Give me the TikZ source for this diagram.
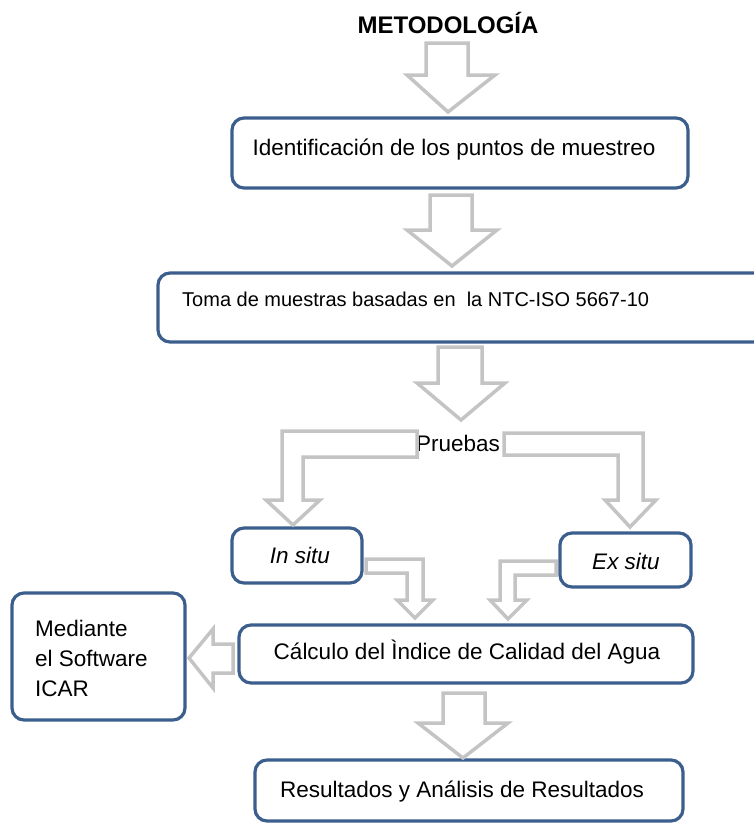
\documentclass[tikz,border=0pt]{standalone}
\usepackage{fontspec}
\setmainfont{Liberation Sans}
\definecolor{boxblue}{RGB}{59,94,140}
\definecolor{arrgray}{RGB}{196,196,196}
\tikzset{
  box/.style={draw=boxblue, line width=3.2pt, rounded corners=12pt, fill=white, inner sep=0pt},
  lbl/.style={inner sep=0pt, font=\fontsize{22.5}{30}\selectfont, text=black},
  blockarrow/.style={draw=arrgray, line width=3.5pt, fill=white, line join=miter}
}
\begin{document}
\begin{tikzpicture}[x=1pt,y=-1pt]
\useasboundingbox (0,0) rectangle (754,823);
% title
\node[lbl, font=\fontsize{24}{28}\selectfont\bfseries] (title) at (448,23) {METODOLOGÍA};
% boxes
\node[box, minimum width=456pt, minimum height=70pt] (b1) at (460,153) {};
\node[box, minimum width=632pt, minimum height=69pt] (b2) at (474,307.5) {};
\node[box, minimum width=130pt, minimum height=55pt] (insitu) at (297,555.5) {};
\node[box, minimum width=131pt, minimum height=54pt] (exsitu) at (625.5,560) {};
\node[box, minimum width=454pt, minimum height=58pt] (calc) at (466,654) {};
\node[box, minimum width=173pt, minimum height=127pt] (med) at (98.5,656.5) {};
\node[box, minimum width=428pt, minimum height=61pt] (res) at (469,790.5) {};
% texts
\node[lbl] (t1) at (454,150) {Identificación de los puntos de muestreo};
\node[lbl, font=\fontsize{20}{24}\selectfont, anchor=west] (t2) at (182,299) {Toma de muestras basadas en\ \ la NTC-ISO 5667-10};
\node[lbl] (pru) at (458,443) {Pruebas};
\node[lbl, font=\fontsize{22.5}{30}\selectfont\itshape] (t3) at (300,555) {In situ};
\node[lbl, font=\fontsize{22.5}{30}\selectfont\itshape] (t4) at (626,561) {Ex situ};
\node[lbl] (t5) at (467,652) {Cálculo del Ìndice de Calidad del Agua};
\node[lbl, align=left, anchor=west] (t6) at (35,658) {Mediante\\el Software\\ICAR};
\node[lbl] (t7) at (462,792) {Resultados y Análisis de Resultados};
% block arrows
\draw[blockarrow] (426,43) -- (468,43) -- (468,75) -- (495,75) -- (448,112) -- (407,75) -- (426,75) -- cycle;
\draw[blockarrow] (430,195) -- (472,195) -- (472,230) -- (497,230) -- (452,266) -- (407,230) -- (430,230) -- cycle;
\draw[blockarrow] (438,347) -- (482,347) -- (482,383) -- (505,383) -- (461,420) -- (417,383) -- (438,383) -- cycle;
\draw[blockarrow] (417,431) -- (282,431) -- (282,500) -- (266,500) -- (293,525) -- (320,500) -- (303,500) -- (303,457) -- (417,457) -- cycle;
\draw[blockarrow] (504,433) -- (643,433) -- (643,500) -- (656,500) -- (630,527) -- (605,500) -- (618,500) -- (618,455) -- (504,455) -- cycle;
\draw[blockarrow] (366,559) -- (423,559) -- (423,600) -- (433,600) -- (415,618) -- (397,600) -- (407,600) -- (407,573) -- (366,573) -- cycle;
\draw[blockarrow] (556,561) -- (500,561) -- (500,600) -- (490,600) -- (508,619) -- (527,600) -- (515,600) -- (515,575) -- (556,575) -- cycle;
\draw[blockarrow] (233,644) -- (213,644) -- (213,629) -- (189,658) -- (213,688) -- (213,673) -- (233,673) -- cycle;
\draw[blockarrow] (443,693) -- (485,693) -- (485,723) -- (508,723) -- (463,758) -- (418,723) -- (443,723) -- cycle;
\end{tikzpicture}
\end{document}
